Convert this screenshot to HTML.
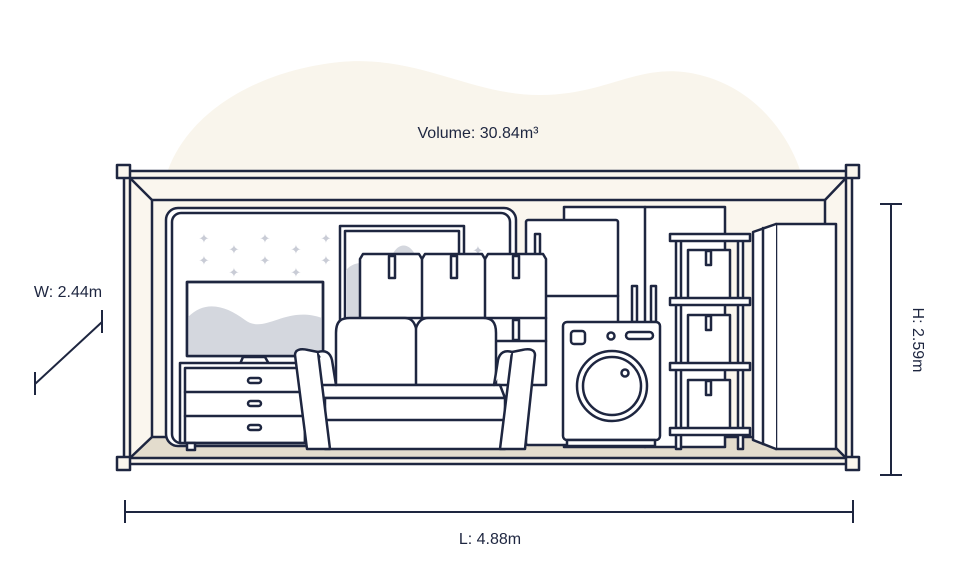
<!DOCTYPE html>
<html><head><meta charset="utf-8"><style>
html,body{margin:0;padding:0;background:#fff;}
svg{display:block;}
text.lbl{font-family:"Liberation Sans",sans-serif;fill:#1e2640;font-size:16px;}
text.star{font-family:"DejaVu Sans",sans-serif;fill:#c9ccd6;font-size:13px;}
</style></head><body>
<svg width="955" height="588" viewBox="0 0 955 588" xmlns="http://www.w3.org/2000/svg">
<path d="M168,170 C190,110 260,70 340,62 C420,55 470,95 540,95 C610,95 640,60 700,75 C760,90 790,140 800,170 Z" fill="#f9f5ec"/>
<text class="lbl" x="478" y="138" text-anchor="middle">Volume: 30.84m³</text>
<g fill="none" stroke="#1e2640" stroke-width="2.5" stroke-linejoin="round" stroke-linecap="round">
<rect x="124" y="171" width="728" height="293" fill="#faf6ee" stroke="none"/>
<polygon points="152,437 825,437 846,458 130,458" fill="#e3dccd" stroke="none"/>
<line x1="124" y1="171" x2="852" y2="171"/>
<line x1="130" y1="178" x2="846" y2="178"/>
<line x1="124" y1="464" x2="852" y2="464"/>
<line x1="130" y1="458" x2="846" y2="458"/>
<line x1="124" y1="171" x2="124" y2="464"/>
<line x1="130" y1="178" x2="130" y2="458"/>
<line x1="852" y1="171" x2="852" y2="464"/>
<line x1="846" y1="178" x2="846" y2="458"/>
<rect x="152" y="200" width="673" height="237"/>
<line x1="130" y1="178" x2="152" y2="200"/>
<line x1="130" y1="458" x2="152" y2="437"/>
<line x1="846" y1="178" x2="825" y2="200"/>
<line x1="846" y1="458" x2="825" y2="437"/>
<rect x="117" y="165" width="13" height="13" fill="#faf6ee"/>
<rect x="117" y="457" width="13" height="13" fill="#faf6ee"/>
<rect x="846" y="165" width="13" height="13" fill="#faf6ee"/>
<rect x="846" y="457" width="13" height="13" fill="#faf6ee"/>
<rect x="166" y="208" width="350" height="238" rx="12" fill="#fff"/>
<rect x="172" y="213" width="338" height="230" rx="9"/>
</g>
<g text-anchor="middle">
<text class="star" x="204" y="243">✦</text><text class="star" x="265" y="243">✦</text><text class="star" x="326" y="243">✦</text>
<text class="star" x="234" y="254">✦</text><text class="star" x="296" y="254">✦</text>
<text class="star" x="204" y="265">✦</text><text class="star" x="265" y="265">✦</text><text class="star" x="326" y="265">✦</text>
<text class="star" x="234" y="277">✦</text><text class="star" x="296" y="277">✦</text>
<text class="star" x="478" y="255">✦</text>
</g>
<g fill="#fff" stroke="#1e2640" stroke-width="2.5" stroke-linejoin="round" stroke-linecap="round">
<rect x="340" y="226" width="124" height="120"/>
<rect x="345" y="231" width="114" height="110" fill="none"/>
<path d="M346,340 L346,270 C360,255 375,270 390,262 C395,240 412,240 418,262 L418,340Z" fill="#d4d7de" stroke="none"/>
<rect x="564" y="207" width="161" height="240"/>
<line x1="645" y1="207" x2="645" y2="447"/>
<rect x="526" y="220" width="92" height="225" rx="2"/>
<line x1="546" y1="296" x2="618" y2="296"/>
<rect x="535" y="234" width="5" height="22"/>
<path d="M360,259 L363,254 L419,254 L422,259 L425,254 L482,254 L485,259 L488,254 L543,254 L546,259 L546,385 L360,385 Z"/>
<line x1="422" y1="259" x2="422" y2="318"/><line x1="485" y1="259" x2="485" y2="385"/>
<line x1="360" y1="318" x2="546" y2="318"/>
<rect x="389" y="256" width="6" height="22"/><rect x="451" y="256" width="6" height="22"/><rect x="513" y="256" width="6" height="22"/>
<rect x="513" y="320" width="6" height="20"/>
<line x1="485" y1="341" x2="546" y2="341"/>
<rect x="187" y="282" width="136" height="74"/>
<path d="M188,355 L188,317 C205,300 225,305 245,320 C265,335 285,305 322,318 L322,355Z" fill="#d4d7de" stroke="none"/>
<rect x="187" y="282" width="136" height="74" fill="none"/>
<path d="M240,364 L243,357 L265,357 L269,364"/>
<rect x="180" y="363" width="125" height="80"/>
<rect x="185" y="368" width="120" height="75" fill="none"/>
<line x1="185" y1="392" x2="305" y2="392"/><line x1="185" y1="416" x2="305" y2="416"/>
<rect x="248" y="378" width="13" height="5" rx="2.5"/><rect x="248" y="401" width="13" height="5" rx="2.5"/><rect x="248" y="425" width="13" height="5" rx="2.5"/>
<rect x="187" y="443" width="8" height="7"/>
<path d="M336,385 L336,333 C336,320 342,318 350,318 L405,318 C413,318 415,325 416,328 C417,325 420,318 428,318 L483,318 C492,318 496,322 496,333 L496,385 Z"/>
<line x1="416" y1="328" x2="416" y2="420"/>
<path d="M318,385 L500,385 L505,398 L322,398 Z"/>
<path d="M325,398 L505,398 L505,449 L325,449 Z"/>
<line x1="322" y1="420" x2="505" y2="420"/>
<path d="M295,355 C295,350 300,348 308,350 L318,352 L330,449 L307,449 Z"/>
<path d="M318,352 C325,350 330,352 332,360 L336,385"/>
<path d="M535,355 C535,350 530,348 522,350 L512,352 L500,449 L525,449 Z"/>
<path d="M512,352 C505,350 500,352 498,360 L494,385"/>
<rect x="632" y="286" width="5" height="36"/><rect x="651" y="286" width="5" height="36"/>
<rect x="563" y="322" width="97" height="118" rx="4"/>
<rect x="567" y="440" width="88" height="6"/>
<rect x="571" y="331" width="14" height="13" rx="3"/>
<circle cx="611" cy="336" r="3.5"/>
<rect x="626" y="332" width="27" height="7" rx="3.5"/>
<circle cx="612" cy="386" r="35"/><circle cx="612" cy="386" r="29"/>
<circle cx="625" cy="373" r="3.5"/>
<rect x="676" y="239" width="5" height="210"/><rect x="738" y="239" width="5" height="210"/>
<rect x="688" y="250" width="42" height="50"/><rect x="688" y="315" width="42" height="50"/><rect x="688" y="380" width="42" height="50"/>
<rect x="706" y="251" width="5" height="14"/><rect x="706" y="316" width="5" height="14"/><rect x="706" y="381" width="5" height="14"/>
<rect x="670" y="234" width="80" height="7"/><rect x="670" y="298" width="80" height="7"/><rect x="670" y="363" width="80" height="7"/><rect x="670" y="428" width="80" height="7"/>
<rect x="776" y="224" width="60" height="225"/>
<path d="M776,224 L753,232 L753,440 L776,449"/>
<line x1="763" y1="228" x2="763" y2="444"/>
</g>
<g stroke="#1e2640" stroke-width="2" fill="none">
<line x1="891" y1="204" x2="891" y2="475"/><line x1="880" y1="204" x2="902" y2="204"/><line x1="880" y1="475" x2="902" y2="475"/>
<line x1="125" y1="512" x2="853" y2="512"/><line x1="125" y1="500" x2="125" y2="523"/><line x1="853" y1="500" x2="853" y2="523"/>
<line x1="35" y1="384" x2="102" y2="322"/><line x1="35" y1="372" x2="35" y2="395"/><line x1="102" y1="310" x2="102" y2="333"/>
</g>
<text class="lbl" x="490" y="544" text-anchor="middle">L: 4.88m</text>
<text class="lbl" x="68" y="297" text-anchor="middle">W: 2.44m</text>
<text class="lbl" x="0" y="0" text-anchor="middle" transform="translate(913,340) rotate(90)">H: 2.59m</text>
</svg>
</body></html>
